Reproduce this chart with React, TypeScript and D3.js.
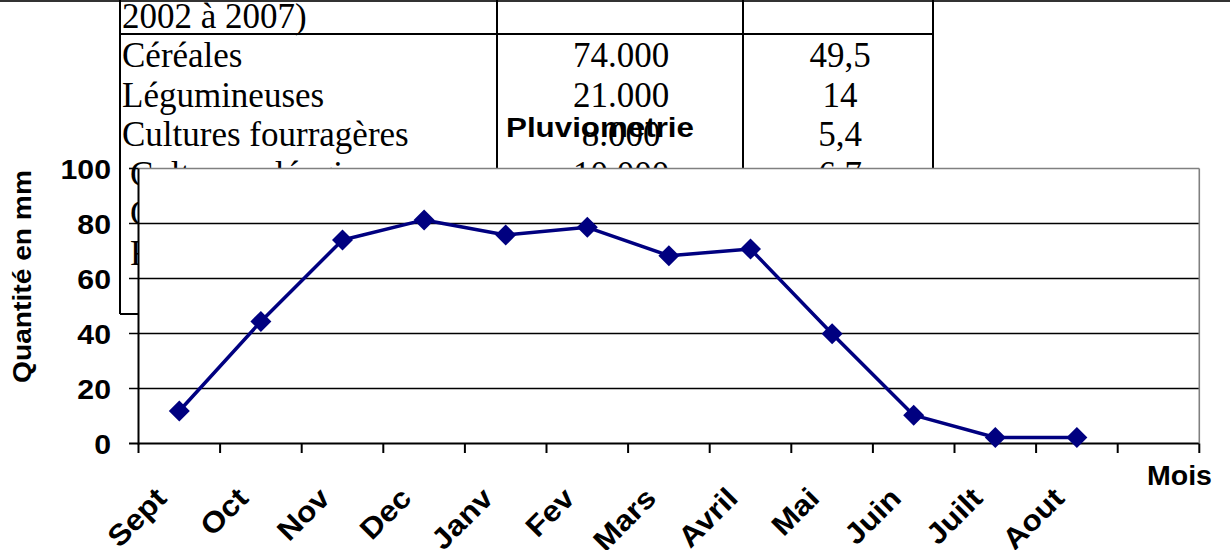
import React from "react";
import * as d3 from "d3";

// ---- chart data ----
const months = ["Sept", "Oct", "Nov", "Dec", "Janv", "Fev", "Mars", "Avril", "Mai", "Juin", "Juilt", "Aout", ""];
const rainfall = [11.8, 44.4, 74.0, 81.3, 75.8, 78.6, 68.3, 70.7, 39.9, 10.3, 2.2, 2.2];
const yTicks = [0, 20, 40, 60, 80, 100];
const chartTitle = "Pluviometrie";
const yTitle = "Quantité en mm";
const xTitle = "Mois";

// ---- background table (partly hidden by the chart) ----
const tableHeaderTail = "2002 à 2007)";
const tableLabels = ["Céréales", "Légumineuses", "Cultures fourragères", "Cultures oléagineuses", "Cultures maraîchères", "Fruits"];
const tableAreas = ["74.000", "21.000", "8.000", "10.000", "", ""];
const tablePercents = ["49,5", "14", "5,4", "6,7", "", ""];

const W = 1230;
const H = 550;
const plotL = 138.5;
const plotR = 1199.3;
const plotT = 168.5;
const plotB = 443.5;

const sans = "'Liberation Sans', Arial, Helvetica, sans-serif";
const serif = "'Liberation Serif', 'Times New Roman', serif";

export default function App() {
  const x = d3.scaleBand<string>().domain(months).range([plotL, plotR]).padding(0);
  const y = d3.scaleLinear().domain([0, 100]).range([plotB, plotT]);
  const cx = (i: number) => (x(months[i]) as number) + x.bandwidth() / 2;

  const line = d3
    .line<number>()
    .x((_, i) => cx(i))
    .y((d) => y(d));

  const boundaries = months.map((m) => x(m) as number).concat([plotR]);
  const rowY = (i: number) => 67 + i * 39.6;
  const diamond = (s: number) => `M0,${-s}L${s},0L0,${s}L${-s},0Z`;

  return (
    <svg
      width={W}
      height={H}
      viewBox={`0 0 ${W} ${H}`}
      style={{ position: "absolute", left: 0, top: 0, background: "#fff" }}
    >
      {/* background table */}
      <g>
        <line x1={0} x2={W} y1={1} y2={1} stroke="#333" strokeWidth={2} />
        {[120, 497, 743, 933].map((vx) => (
          <line key={vx} x1={vx} x2={vx} y1={0} y2={314} stroke="#000" strokeWidth={2} />
        ))}
        <line x1={120} x2={933} y1={34} y2={34} stroke="#000" strokeWidth={2} />
        <line x1={120} x2={933} y1={314} y2={314} stroke="#000" strokeWidth={2} />
        <text x={122} y={28} fontFamily={serif} fontSize={35} fill="#000">
          {tableHeaderTail}
        </text>
        {tableLabels.map((lab, i) => (
          <g key={lab} fontFamily={serif} fontSize={35} fill="#000">
            <text x={i < 3 ? 122 : 130} y={rowY(i)}>
              {lab}
            </text>
            {tableAreas[i] && (
              <text x={621} y={rowY(i)} textAnchor="middle">
                {tableAreas[i]}
              </text>
            )}
            {tablePercents[i] && (
              <text x={840} y={rowY(i)} textAnchor="middle">
                {tablePercents[i]}
              </text>
            )}
          </g>
        ))}
      </g>

      {/* chart title */}
      <text
        x={506}
        y={137}
        fontFamily={sans}
        fontWeight="bold"
        fontSize={27}
        textLength={188}
        lengthAdjust="spacingAndGlyphs"
        fill="#000"
      >
        {chartTitle}
      </text>

      {/* plot area */}
      <rect x={plotL} y={plotT} width={plotR - plotL} height={plotB - plotT} fill="#fff" />
      {/* gridlines + y ticks */}
      {yTicks.map((t) => (
        <line
          key={t}
          x1={129}
          x2={t === 100 ? plotL : plotR}
          y1={y(t)}
          y2={y(t)}
          stroke="#000"
          strokeWidth={t === 0 ? 2 : 1.6}
        />
      ))}
      {/* top + right border */}
      <line x1={plotL} x2={plotR} y1={plotT} y2={plotT} stroke="#808080" strokeWidth={1.6} />
      <line x1={plotR} x2={plotR} y1={plotT} y2={plotB} stroke="#808080" strokeWidth={1.6} />
      {/* y axis */}
      <line x1={plotL} x2={plotL} y1={plotT} y2={plotB + 1} stroke="#000" strokeWidth={2} />
      {/* x ticks */}
      {boundaries.map((bx, i) => (
        <line key={i} x1={bx} x2={bx} y1={plotB} y2={453} stroke="#000" strokeWidth={2} />
      ))}

      {/* y labels */}
      {yTicks.map((t) => (
        <text
          key={t}
          transform={`translate(111,${y(t) + 10}) scale(1.08,1)`}
          textAnchor="end"
          fontFamily={sans}
          fontWeight="bold"
          fontSize={28}
          fill="#000"
        >
          {t}
        </text>
      ))}

      {/* x labels */}
      {months.map((m, i) =>
        m ? (
          <text
            key={m}
            transform={`translate(${cx(i) - 11},500) rotate(-45) scale(1.1,1)`}
            textAnchor="end"
            fontFamily={sans}
            fontWeight="bold"
            fontSize={29}
            fill="#000"
          >
            {m}
          </text>
        ) : null
      )}

      {/* axis titles */}
      <text
        transform="translate(31,276.5) rotate(-90)"
        textAnchor="middle"
        fontFamily={sans}
        fontWeight="bold"
        fontSize={25}
        textLength={213}
        lengthAdjust="spacingAndGlyphs"
        fill="#000"
      >
        {yTitle}
      </text>
      <text
        x={1212}
        y={485}
        textAnchor="end"
        fontFamily={sans}
        fontWeight="bold"
        fontSize={27}
        textLength={65}
        lengthAdjust="spacingAndGlyphs"
        fill="#000"
      >
        {xTitle}
      </text>

      {/* series */}
      <path d={line(rainfall) || ""} fill="none" stroke="#000080" strokeWidth={3.5} strokeLinejoin="round" />
      {rainfall.map((v, i) => (
        <path key={i} d={diamond(10.5)} transform={`translate(${cx(i)},${y(v)})`} fill="#000080" />
      ))}
    </svg>
  );
}
